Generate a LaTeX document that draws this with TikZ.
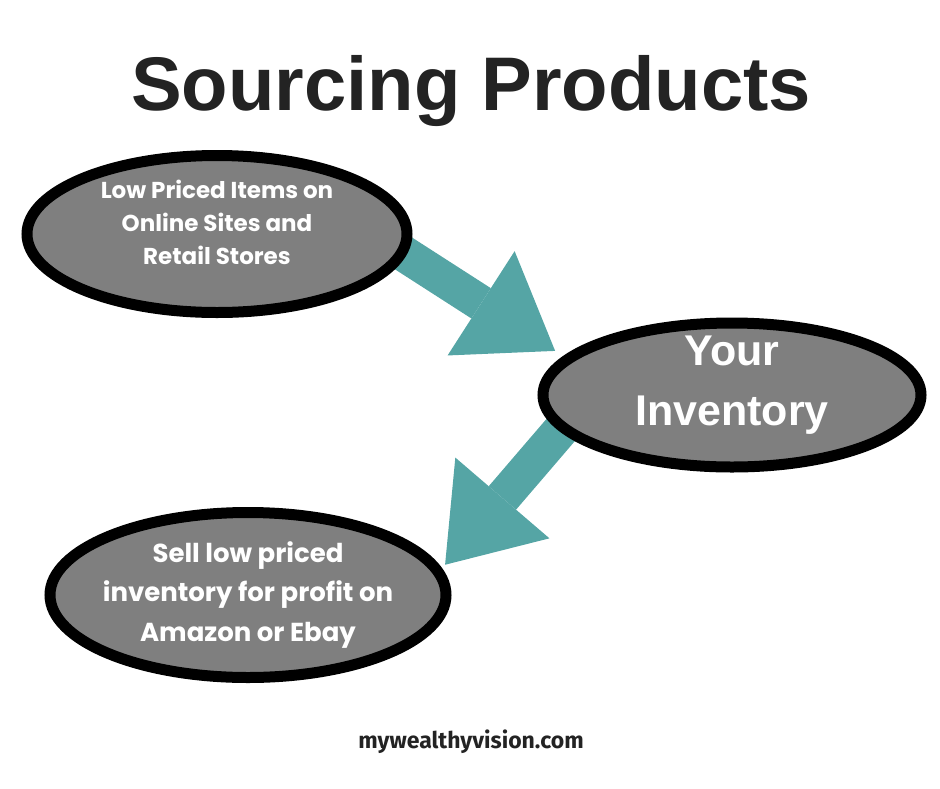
\documentclass[tikz,border=0pt]{standalone}
\usepackage{fontspec}
\setmainfont{Liberation Sans}
\newfontfamily\bubblefont{Poppins}
\newfontfamily\sitefont{Fira Sans}
\usetikzlibrary{arrows.meta}
\usetikzlibrary{calc}
\usetikzlibrary{shapes.geometric}
\usepackage{xcolor}

\definecolor{bubblegray}{RGB}{127,127,127}
\definecolor{flowteal}{RGB}{85,165,165}
\definecolor{titleink}{RGB}{35,35,35}

\pgfdeclarelayer{behind}
\pgfsetlayers{behind,main}

\begin{document}
\begin{tikzpicture}[x=1pt,y=-1pt,
    bubble/.style={ellipse, draw=black, line width=11pt, fill=bubblegray,
      text=white, align=center, inner sep=-10pt},
    flow/.style={flowteal, line width=36pt,
      -{Triangle[width=124pt,length=88pt,line width=0pt]}}]
      \useasboundingbox (0,0) rectangle (940,788);

      % Title
      \node[anchor=base, text=titleink, font=\fontsize{76}{76}\selectfont\bfseries] (title) at (471,110) {Sourcing Products};

      % Bubbles
      \node[bubble, minimum width=380pt, minimum height=157pt, text depth=23pt,
        font=\bubblefont\bfseries\fontsize{23}{33}\selectfont] (source) at (217,234)
        {Low Priced Items on\\Online Sites and\\Retail Stores};
      \node[bubble, minimum width=378pt, minimum height=144pt, text depth=28pt, inner ysep=-20pt,
        font=\fontsize{43}{60}\selectfont\bfseries] (stock) at (732,395)
        {Your\\Inventory};
      \node[bubble, minimum width=396pt, minimum height=165pt,
        font=\bubblefont\bfseries\fontsize{26}{39.5}\selectfont] (resale) at (248,595)
        {Sell low priced\\inventory for profit on\\Amazon or Ebay};

      % Arrows
      \begin{pgfonlayer}{behind}
        \draw[flow] ($(stock.166)+(-222,-138)$) -- ($(stock.166)+(-12,-3)$);
        \draw[flow] ($(resale.9)+(169,-190)$) -- ($(resale.9)+(6,0)$);
      \end{pgfonlayer}

      % Footer
      \node[anchor=base, text=titleink, font=\sitefont\bfseries\fontsize{23}{23}\selectfont] (site) at (471,748) {mywealthyvision.com};
  \end{tikzpicture}
\end{document}
